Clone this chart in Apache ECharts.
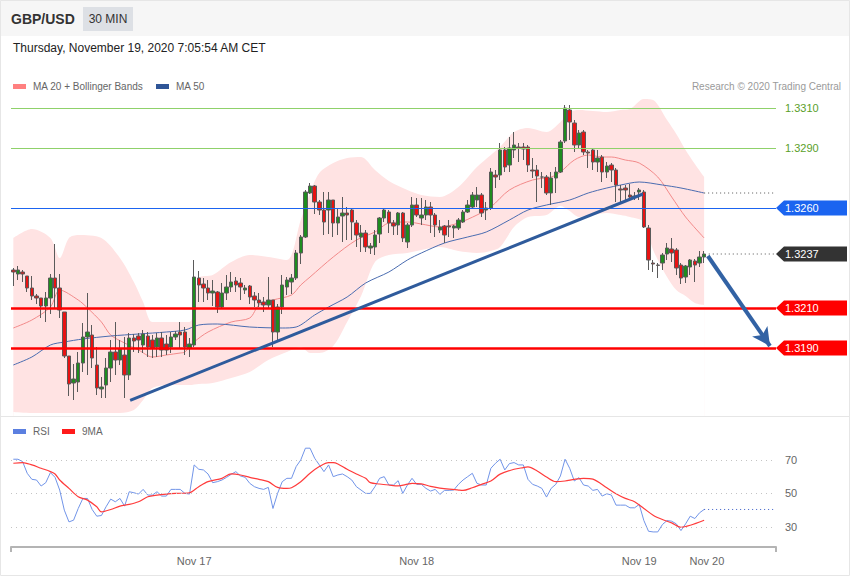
<!DOCTYPE html>
<html><head><meta charset="utf-8">
<script src="https://cdn.jsdelivr.net/npm/echarts@6/dist/echarts.min.js"></script>
<style>html,body{margin:0;padding:0;background:#fff}#c{width:850px;height:576px}</style>
</head><body><div id="c"></div>
<script>
// ---------- DATA ----------
const opens = [1.3229,1.3227,1.3228,1.3226,1.3220,1.3216,1.3215,1.3211,1.3215,1.3225,
1.3220,1.3208,1.3186,1.31725,1.3173,1.31825,1.31955,1.31965,1.31815,1.31695,
1.31715,1.3180,1.3188,1.3184,1.31865,1.31765,1.3195,1.3196,1.31915,1.3196,
1.3194,1.31905,1.3195,1.3192,1.31905,1.31955,1.3198,1.3198,1.3190,1.31915,
1.3225,1.3222,1.3220,1.32175,1.3218,1.32105,1.32175,1.32205,1.32235,1.32225,
1.3219,1.3221,1.3216,1.3214,1.3213,1.32115,1.3214,1.3198,1.32105,1.32205,
1.3223,1.3225,1.32375,1.32455,1.32675,1.3271,1.3263,1.3259,1.3259,1.3264,
1.32525,1.3256,1.32575,1.3259,1.32525,1.32455,1.32475,1.3240,1.32405,1.3247,
1.3255,1.3258,1.32525,1.32515,1.32575,1.3243,1.32515,1.32615,1.3255,1.32565,
1.32605,1.32565,1.3249,1.3251,1.3251,1.3250,1.3250,1.3253,1.3258,1.32605,
1.3264,1.32665,1.3259,1.3260,1.32765,1.32765,1.3289,1.32815,1.3289,1.32905,
1.32905,1.32905,1.3279,1.3279,1.32755,1.32755,1.32675,1.3275,1.3278,1.32935,
1.3309,1.33025,1.32915,1.3298,1.3288,1.3289,1.3283,1.32855,1.3278,1.32815,
1.3279,1.32695,1.3270,1.32665,1.3266,1.3268,1.3268,1.3250,1.32325,1.32315,
1.32325,1.3237,1.32395,1.3239,1.32315,1.32255,1.32305,1.32335,1.32325,1.32355];
const closes = [1.3228,1.3229,1.3227,1.3220,1.3216,1.3215,1.3211,1.3215,1.3225,1.3220,
1.3209,1.3186,1.3172,1.31745,1.31825,1.31955,1.3198,1.3185,1.3170,1.31705,
1.3180,1.3188,1.3184,1.31895,1.31765,1.3195,1.31935,1.3194,1.3197,1.31905,
1.3190,1.3195,1.3189,1.3189,1.31955,1.3197,1.31965,1.31905,1.3192,1.32255,
1.32215,1.3220,1.32175,1.32185,1.32105,1.32175,1.32205,1.3223,1.32215,1.32205,
1.3220,1.32155,1.3214,1.32125,1.32115,1.3214,1.3198,1.32105,1.32215,1.3224,
1.3225,1.32375,1.32455,1.3268,1.3271,1.3263,1.3259,1.3253,1.3264,1.32525,
1.32555,1.32575,1.32565,1.3253,1.32465,1.32475,1.32405,1.3241,1.32465,1.3255,
1.3259,1.32525,1.3251,1.32575,1.3245,1.32515,1.32615,1.32565,1.32565,1.32605,
1.32565,1.32515,1.32505,1.32465,1.32505,1.3251,1.3254,1.3258,1.32615,1.32665,
1.32665,1.32575,1.3260,1.3278,1.32755,1.3289,1.32805,1.3290,1.32915,1.3290,
1.32895,1.32815,1.32785,1.3276,1.32755,1.32675,1.3275,1.3278,1.3293,1.3310,
1.3303,1.32915,1.32975,1.3288,1.32875,1.3283,1.3285,1.3278,1.3281,1.3279,
1.32715,1.3269,1.3269,1.32655,1.32655,1.3269,1.32505,1.3234,1.3232,1.32313,
1.32365,1.3240,1.32375,1.3230,1.3225,1.3231,1.3234,1.32315,1.32355,1.3237];
const highs = [1.3230,1.3231,1.3229,1.3226,1.3226,1.3217,1.3215,1.3218,1.3227,1.3242,
1.3227,1.3208,1.3186,1.3182,1.3188,1.32025,1.32175,1.32015,1.31905,1.31755,
1.3185,1.3194,1.3203,1.3194,1.31955,1.31975,1.3197,1.31975,1.3199,1.3198,
1.31965,1.31975,1.3198,1.31965,1.3198,1.31985,1.3203,1.32005,1.3195,1.3234,
1.32285,1.3225,1.3224,1.3224,1.32185,1.32225,1.32265,1.3228,1.32255,1.3225,
1.32215,1.32215,1.3218,1.32175,1.32155,1.32255,1.3214,1.3212,1.32265,1.32255,
1.3227,1.3239,1.32465,1.3269,1.32725,1.32715,1.3264,1.3268,1.3268,1.3264,
1.3260,1.32655,1.32605,1.3260,1.3254,1.32515,1.3249,1.32425,1.3249,1.32555,
1.3260,1.3259,1.3254,1.3258,1.3258,1.32525,1.32655,1.3265,1.3265,1.3264,
1.3263,1.32575,1.3254,1.32515,1.3254,1.32515,1.3255,1.3259,1.3264,1.3268,
1.32705,1.32675,1.3263,1.3280,1.3279,1.32925,1.32905,1.32955,1.3298,1.32925,
1.32925,1.32915,1.3285,1.32815,1.3278,1.32765,1.3278,1.32805,1.3294,1.33115,
1.33115,1.3304,1.3299,1.3299,1.3289,1.3290,1.3289,1.32865,1.3283,1.32825,
1.3280,1.32715,1.32715,1.3272,1.3268,1.3270,1.3269,1.32515,1.3234,1.32325,
1.32375,1.32425,1.3245,1.3240,1.32325,1.32315,1.32345,1.32345,1.32385,1.32385];
const lows = [1.3221,1.3224,1.3223,1.3218,1.3214,1.3212,1.3205,1.3203,1.3207,1.3210,
1.3205,1.3185,1.3166,1.3164,1.3168,1.3178,1.31765,1.3180,1.31665,1.3165,
1.3165,1.3173,1.31765,1.31815,1.3165,1.3174,1.3188,1.31875,1.31875,1.31855,
1.3185,1.31855,1.31855,1.31865,1.31875,1.3194,1.3190,1.31865,1.31855,1.31905,
1.3213,1.3213,1.3214,1.3211,1.32075,1.3210,1.3214,1.3218,1.3218,1.3214,
1.3217,1.3212,1.32105,1.32105,1.3208,1.3210,1.31905,1.3193,1.3207,1.32165,
1.3217,1.3224,1.3232,1.3245,1.3267,1.3257,1.32565,1.32465,1.3247,1.32455,
1.32465,1.3243,1.3244,1.3244,1.32405,1.3238,1.3238,1.3237,1.32365,1.32425,
1.3253,1.32475,1.32465,1.32465,1.3243,1.3240,1.32505,1.32555,1.32515,1.3254,
1.32475,1.32455,1.32475,1.32425,1.32455,1.3245,1.3249,1.32525,1.32575,1.3260,
1.32605,1.32555,1.3254,1.3259,1.3270,1.3274,1.3278,1.3278,1.3285,1.3283,
1.3284,1.3278,1.3275,1.3263,1.3270,1.32665,1.32615,1.32675,1.32775,1.32925,
1.3294,1.3288,1.3290,1.32865,1.3280,1.3279,1.3278,1.3273,1.3275,1.3273,
1.3263,1.3263,1.3264,1.3264,1.3264,1.3264,1.3250,1.3229,1.3228,1.3225,
1.3229,1.3234,1.3233,1.32265,1.3222,1.32225,1.32265,1.3223,1.32305,1.32325];

const ma20Idx = [0,4,8,10,14,16,19,21,24,27,30,33,36,37,39,42,47,51,53,56,60,62,64,69,74,78,81,85,88,92,96,100,103,107,112,116,118,121,124,127,129,132,135,139,142,145,149];
const ma20Val = [1.3200,1.3204,1.32105,1.3219,1.3214,1.3210,1.3203,1.31965,1.31925,1.3189,1.31855,1.31865,1.31875,1.3188,1.3193,1.3198,1.3203,1.3205,1.32115,1.3214,1.32165,1.32215,1.32255,1.32355,1.3244,1.3248,1.32525,1.3253,1.3252,1.32505,1.32525,1.32565,1.32605,1.3269,1.3274,1.32755,1.3278,1.3284,1.32865,1.32855,1.32855,1.3284,1.32825,1.32755,1.32655,1.32555,1.3245];

const ma50Idx = [0,4,8,11,15,21,27,33,37,40,44,51,58,61,65,68,72,76,81,85,88,93,98,102,107,111,115,120,124,128,131,135,140,144,149];
const ma50Val = [1.31815,1.31855,1.31915,1.3193,1.31945,1.3196,1.3197,1.3198,1.3199,1.32015,1.3202,1.32005,1.3200,1.32005,1.32065,1.32105,1.32155,1.32225,1.3228,1.3234,1.32375,1.32425,1.32455,1.3248,1.3254,1.3259,1.32615,1.3264,1.32675,1.3270,1.32715,1.3273,1.32715,1.3270,1.32675];

const bandIdx = [0,4,8,10,12,14,19,23,26,28,30,34,38,40,43,47,51,55,59,62,64,66,69,72,75,78,81,85,88,92,96,100,103,105,108,111,115,118,120,122,125,128,131,133,136,138,141,143,145,147,149];
const bandUpper = [1.3245,1.32495,1.3245,1.3235,1.3245,1.32465,1.3245,1.3235,1.3223,1.3213,
1.3203,1.3203,1.3203,1.3225,1.32265,1.3233,1.32365,1.32355,1.3234,1.3254,
1.32675,1.32775,1.32825,1.3285,1.32855,1.3279,1.32735,1.3269,1.32665,1.32655,
1.32705,1.32805,1.32865,1.32905,1.3298,1.3300,1.3298,1.3303,1.3308,1.3309,
1.33085,1.3308,1.3309,1.33095,1.33145,1.3314,1.3304,1.3297,1.3289,1.3282,1.32755];
const bandLower = [1.3158,1.31575,1.31575,1.31575,1.31575,1.31575,1.31575,1.31575,1.3159,1.3164,
1.3170,1.31715,1.31715,1.3172,1.31725,1.3175,1.3178,1.3184,1.3188,1.31905,
1.31875,1.31875,1.3191,1.3203,1.3216,1.3233,1.32365,1.32375,1.3239,1.32405,
1.32385,1.32375,1.32385,1.32405,1.32505,1.32555,1.32565,1.3261,1.32585,1.32555,
1.32565,1.32575,1.32565,1.32555,1.3253,1.3239,1.32255,1.3219,1.3216,1.32125,1.32115];

const rsi = [70.4,70.4,69,62,58.4,58,54.4,56.4,62.4,59.6,
52,40,33,34,41,47,47,40.4,36.4,36.8,
42,46.6,45,47,42.4,51,50.4,49.6,52.4,49,
49,51,48.4,48.4,52.4,52.4,52.4,50,49.6,67,
64.4,64,61.6,56.4,57,58,59.6,61.4,63,60.4,
59.6,56,54,53,52.4,53.6,41,50,57,59,
59,66,70,77,77,71,67,63,67,60,
61,61.6,60,58,54,52,50,50,54,59,
60,55,55,57.6,50,55,59,55.4,55.4,53,
51.4,52.4,49.4,51.8,51.8,52,55.4,58,60,62,
56,55,55,65,68,70.4,64,67.8,68.4,67,
67,58.4,55.4,54.4,53,47.8,53,55.4,60.4,70.4,
65,57.4,59.4,55,54.4,51.8,52.4,48.4,49.8,49,
43,43,43,41.4,41.4,43.4,33.8,27.4,27,27,
31.4,33.8,33.4,31.8,27.8,31.8,36.4,35,38.4,40.4];
const rsiMaIdx = [0,2,4,6,8,9,10,12,14,16,18,19,21,23,25,27,29,31,33,35,38,40,42,45,47,49,51,53,55,57,59,60,62,64,66,68,69,70,72,74,76,77,79,81,83,85,86,88,90,92,94,96,97,99,101,103,105,108,110,111,113,115,117,119,121,123,125,128,130,132,134,136,138,140,142,144,146,149];
const rsiMaVal = [68,68.4,67,65,63,61.6,58,53,48,46,42,39,40.4,42.4,43.4,45,48,49,49.6,50,50.4,54,57,59,61.6,61,59.6,58.4,57,53.6,53,53.4,57,62,66,68.4,68.4,67.6,64.4,61.6,59,56.4,55.6,55,54.5,55.5,56,55.7,54.2,53.2,52.5,52,51.8,53.4,55.4,57.4,61.5,64.4,65.4,65.8,63.4,59.8,57,57.4,58.4,59,58.5,53.4,49.8,47,45,41,37,34.4,32.4,29.8,31,34];

const resistances = [1.3310, 1.3290];
const pivotLevel = [1.3260];
const supports = [1.3210, 1.3190];
const tagValues = [1.3260, 1.3237, 1.3210, 1.3190];
const trendIdx = [25.2, 135.8], trendVal = [1.31638, 1.3267];
const arrowIdx = [149.8, 163.2], arrowVal = [1.3236, 1.3191];
const rsiLevels = [30, 50, 70];
const dateLabels = ['Nov 17', 'Nov 18', 'Nov 19', 'Nov 20'];
const dateIdx = [39, 87, 135, 149.6];
const SLOTS = 165;

// ---------- STYLE ----------
const FONT = '"Liberation Sans", Arial, sans-serif';
const tagColors = ['#1b64f0', '#333333', '#ff0000', '#ff0000'];
const xMin = -0.5, xMax = SLOTS - 0.5;
const pairs = (a, b) => a.map((x, k) => [x, b[k]]);
const lastI = closes.length - 1;

const chart = echarts.init(document.getElementById('c'), null, {renderer: 'svg'});
chart.setOption({
  animation: false,
  textStyle: {fontFamily: FONT},
  grid: [
    {left: 11, width: 765, top: 68, height: 348},
    {left: 11, width: 765, top: 426.4, height: 120.6}
  ],
  xAxis: [
    {type: 'category', gridIndex: 0, data: Array.from({length: SLOTS}, (_, i) => i), show: false, boundaryGap: true},
    {type: 'value', gridIndex: 0, min: xMin, max: xMax, show: false},
    {type: 'value', gridIndex: 1, min: xMin, max: xMax,
      axisLine: {show: true, lineStyle: {color: '#b4b4b4', width: 2}},
      axisTick: {show: true, customValues: [xMin, xMax], length: 5, lineStyle: {color: '#b4b4b4', width: 2}},
      axisLabel: {customValues: dateIdx, formatter: v => dateLabels[dateIdx.indexOf(v)] || '', color: '#666', fontSize: 11, margin: 8, fontFamily: FONT},
      splitLine: {show: false}}
  ],
  yAxis: [
    {type: 'value', gridIndex: 0, min: 1.3156, max: 1.3330, show: false},
    {type: 'value', gridIndex: 1, min: 18, max: 90, position: 'right',
      axisLine: {show: false}, axisTick: {show: false}, splitLine: {show: false},
      axisLabel: {customValues: rsiLevels, color: '#666', fontSize: 11, margin: 9, fontFamily: FONT}}
  ],
  series: [
    // Bollinger band: pink area down from upper band, white mask up to lower band
    {type: 'line', name: 'bbUp', xAxisIndex: 1, yAxisIndex: 0, smooth: 0.3, symbol: 'none', silent: true,
      lineStyle: {opacity: 0}, areaStyle: {color: '#ffe3e3', opacity: 1, origin: 'start'},
      data: pairs(bandIdx, bandUpper), z: 1},
    {type: 'line', name: 'bbLow', xAxisIndex: 1, yAxisIndex: 0, smooth: 0.3, symbol: 'none', silent: true,
      lineStyle: {opacity: 0}, areaStyle: {color: '#ffffff', opacity: 1, origin: 'start'},
      data: pairs(bandIdx, bandLower), z: 1.5},
    {type: 'line', name: 'MA 20', xAxisIndex: 1, yAxisIndex: 0, smooth: 0.3, symbol: 'none', silent: true,
      lineStyle: {color: '#f28a8a', width: 1}, data: pairs(ma20Idx, ma20Val), z: 2},
    {type: 'line', name: 'MA 50', xAxisIndex: 1, yAxisIndex: 0, smooth: 0.3, symbol: 'none', silent: true,
      lineStyle: {color: '#4a6cb0', width: 1}, data: pairs(ma50Idx, ma50Val), z: 2},
    {type: 'candlestick', xAxisIndex: 0, yAxisIndex: 0, barWidth: 4, silent: true,
      itemStyle: {color: '#1f8c1f', color0: '#e81212', borderColor: '#5a5a5a', borderColor0: '#5a5a5a', borderWidth: 1},
      data: opens.map((o, i) => [o, closes[i], lows[i], highs[i]]), z: 3},
    {type: 'line', name: 'levels', xAxisIndex: 1, yAxisIndex: 0, data: [], z: 5,
      markLine: {silent: true, symbol: 'none', animation: false, precision: 4,
        data: [
          ...resistances.map(v => ({yAxis: v, lineStyle: {color: '#8fd16a', width: 1, type: 'solid'},
            label: {show: true, position: 'end', distance: 9, formatter: p => Number(p.value).toFixed(4), color: '#5aa02a', fontSize: 11, fontFamily: FONT}})),
          ...pivotLevel.map(v => ({yAxis: v, lineStyle: {color: '#1b64f0', width: 1.2, type: 'solid'}, label: {show: false}})),
          ...supports.map(v => ({yAxis: v, lineStyle: {color: '#ff0000', width: 2.5, type: 'solid'}, label: {show: false}}))
        ]}},
    {type: 'line', name: 'trend', xAxisIndex: 1, yAxisIndex: 0, symbol: 'none', silent: true,
      lineStyle: {color: '#2f5b9c', width: 3}, data: pairs(trendIdx, trendVal), z: 6,
      markLine: {silent: true, animation: false, precision: 5,
        data: [[{coord: [arrowIdx[0], arrowVal[0]], symbol: 'none'}, {coord: [arrowIdx[1], arrowVal[1]], symbol: 'arrow', symbolSize: [14, 18]}]],
        lineStyle: {color: '#3262a4', width: 4, type: 'solid'}, label: {show: false}}},
    {type: 'line', xAxisIndex: 1, yAxisIndex: 0, symbol: 'none', silent: true, z: 4,
      lineStyle: {color: '#555', width: 1, type: [1, 3]},
      data: [[ma50Idx[ma50Idx.length - 1], ma50Val[ma50Val.length - 1]], [xMax, ma50Val[ma50Val.length - 1]]]},
    {type: 'line', xAxisIndex: 1, yAxisIndex: 0, symbol: 'none', silent: true, z: 4,
      lineStyle: {color: '#555', width: 1, type: [1, 3]},
      data: [[lastI + 1, closes[lastI]], [xMax, closes[lastI]]]},
    {type: 'custom', xAxisIndex: 1, yAxisIndex: 0, clip: false, silent: true, z: 7,
      data: tagValues.map(v => [xMax, v]),
      renderItem: (params, api) => {
        const v = api.value(1);
        const p = api.coord([xMax, v]);
        const x0 = p[0], y = p[1];
        return {type: 'group', children: [
          {type: 'polygon', shape: {points: [[x0, y], [x0 + 8, y - 7.5], [x0 + 71, y - 7.5], [x0 + 71, y + 7.5], [x0 + 8, y + 7.5]]},
            style: {fill: tagColors[params.dataIndex]}},
          {type: 'text', style: {text: v.toFixed(4), x: x0 + 9, y: y, verticalAlign: 'middle', align: 'left', fill: '#fff', font: '11px ' + FONT}}
        ]};
      }},
    // RSI panel
    {type: 'line', name: 'RSI', xAxisIndex: 2, yAxisIndex: 1, symbol: 'none', silent: true,
      lineStyle: {color: '#7194e8', width: 1}, data: rsi.map((v, i) => [i, v]), z: 3,
      markLine: {silent: true, symbol: 'none', animation: false, label: {show: false},
        lineStyle: {color: '#c4c4c4', width: 1, type: [1, 4]},
        data: rsiLevels.map(v => ({yAxis: v}))}},
    {type: 'line', name: '9MA', xAxisIndex: 2, yAxisIndex: 1, symbol: 'none', silent: true, smooth: 0.3,
      lineStyle: {color: '#ff3b3b', width: 1.2}, data: pairs(rsiMaIdx, rsiMaVal), z: 4},
    {type: 'line', xAxisIndex: 2, yAxisIndex: 1, symbol: 'none', silent: true,
      lineStyle: {color: '#3a5fc8', width: 1, type: [1, 3]},
      data: [[lastI, rsi[lastI]], [xMax, rsi[lastI]]]}
  ],
  graphic: [
    {type: 'rect', shape: {x: 0, y: 0, width: 850, height: 36}, style: {fill: '#f6f6f6'}, z: 0},
    {type: 'text', x: 11, y: 19, z: 100, style: {text: 'GBP/USD', font: 'bold 14px ' + FONT, fill: '#333', verticalAlign: 'middle'}},
    {type: 'rect', shape: {x: 83, y: 7, width: 50, height: 24}, style: {fill: '#dde0e5'}, z: 1},
    {type: 'text', x: 108, y: 19, z: 100, style: {text: '30 MIN', font: '12px ' + FONT, fill: '#333', align: 'center', verticalAlign: 'middle'}},
    {type: 'text', x: 13, y: 48, z: 100, style: {text: 'Thursday, November 19, 2020 7:05:54 AM CET', font: '12px ' + FONT, fill: '#222', verticalAlign: 'middle'}},
    {type: 'rect', shape: {x: 13, y: 84, width: 13, height: 5}, style: {fill: '#ff8080'}, z: 100},
    {type: 'text', x: 33, y: 86.5, z: 100, style: {text: 'MA 20 + Bollinger Bands', font: '10px ' + FONT, fill: '#666', verticalAlign: 'middle'}},
    {type: 'rect', shape: {x: 156, y: 84, width: 13, height: 5}, style: {fill: '#2f5597'}, z: 100},
    {type: 'text', x: 176, y: 86.5, z: 100, style: {text: 'MA 50', font: '10px ' + FONT, fill: '#666', verticalAlign: 'middle'}},
    {type: 'text', x: 841, y: 86.5, z: 100, style: {text: 'Research \u00A9 2020 Trading Central', font: '10px ' + FONT, fill: '#9a9a9a', align: 'right', verticalAlign: 'middle'}},
    {type: 'line', shape: {x1: 0, y1: 416.5, x2: 850, y2: 416.5}, style: {stroke: '#e6e6e6', lineWidth: 1}, z: 100},
    {type: 'rect', shape: {x: 13, y: 429, width: 13, height: 5}, style: {fill: '#5b7fe0'}, z: 100},
    {type: 'text', x: 33, y: 431.5, z: 100, style: {text: 'RSI', font: '10px ' + FONT, fill: '#666', verticalAlign: 'middle'}},
    {type: 'rect', shape: {x: 62, y: 429, width: 13, height: 5}, style: {fill: '#ff1a1a'}, z: 100},
    {type: 'text', x: 82, y: 431.5, z: 100, style: {text: '9MA', font: '10px ' + FONT, fill: '#666', verticalAlign: 'middle'}},
    {type: 'rect', shape: {x: 0.5, y: 0.5, width: 849, height: 575}, style: {fill: 'none', stroke: '#e6e6e6', lineWidth: 1}, z: 100}
  ]
});
</script></body></html>
